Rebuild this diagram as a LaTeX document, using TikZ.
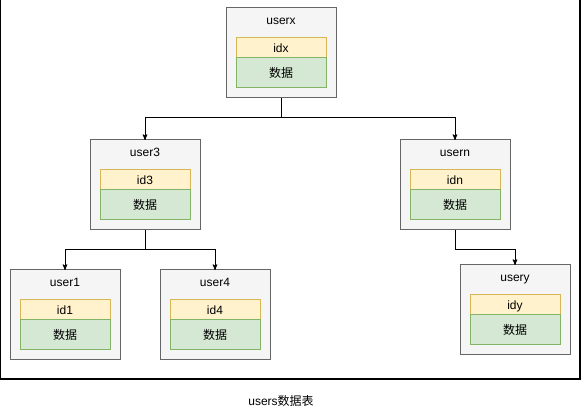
\documentclass[tikz,border=0pt]{standalone}
\usepackage{fontspec}
\setmainfont{Liberation Sans}
\newfontfamily\cjk{Noto Sans CJK SC}
\usetikzlibrary{arrows,positioning}

\definecolor{boxfill}{HTML}{F5F5F5}
\definecolor{boxline}{HTML}{666666}
\definecolor{idfill}{HTML}{FFF2CC}
\definecolor{idline}{HTML}{D6B656}
\definecolor{datafill}{HTML}{D5E8D4}
\definecolor{dataline}{HTML}{82B366}

\begin{document}
\begin{tikzpicture}[x=1pt,y=-1pt,->,>=stealth',line width=1pt,
                    font=\fontsize{12}{14}\selectfont,
                    every node/.style={inner sep=0pt,outer sep=0pt,
                                       text height=10.9pt,text depth=2.5pt},
                    user/.style={draw=boxline,fill=boxfill,
                                 minimum width=110pt,minimum height=90pt},
                    idfield/.style={draw=idline,fill=idfill,
                                    minimum width=90pt,minimum height=20pt},
                    datafield/.style={draw=dataline,fill=datafill,
                                      minimum width=90pt,minimum height=30pt}]

  \useasboundingbox (0,0) rectangle (582,411);
  \draw[-,line width=1.2pt] (0.6,-1) rectangle (580,379);

  % the records
  \node[user] (ux) at (281,53)  {};
  \node[user] (u3) at (145,185) {};
  \node[user] (un) at (455,185) {};
  \node[user] (u1) at (65,315)  {};
  \node[user] (u4) at (215,315) {};
  \node[user] (uy) at (515,310) {};

  \node (ux-t) at ([yshift=-12pt]ux.north) {userx};
  \node (u3-t) at ([yshift=-12pt]u3.north) {user3};
  \node (un-t) at ([yshift=-12pt]un.north) {usern};
  \node (u1-t) at ([yshift=-12pt]u1.north) {user1};
  \node (u4-t) at ([yshift=-12pt]u4.north) {user4};
  \node (uy-t) at ([yshift=-12pt]uy.north) {usery};

  \node[idfield] (ux-id) [below=30pt of ux.north] {idx};
  \node[idfield] (u3-id) [below=30pt of u3.north] {id3};
  \node[idfield] (un-id) [below=30pt of un.north] {idn};
  \node[idfield] (u1-id) [below=30pt of u1.north] {id1};
  \node[idfield] (u4-id) [below=30pt of u4.north] {id4};
  \node[idfield] (uy-id) [below=30pt of uy.north] {idy};

  \node[datafield] (ux-d) [below=0pt of ux-id] {\cjk 数据};
  \node[datafield] (u3-d) [below=0pt of u3-id] {\cjk 数据};
  \node[datafield] (un-d) [below=0pt of un-id] {\cjk 数据};
  \node[datafield] (u1-d) [below=0pt of u1-id] {\cjk 数据};
  \node[datafield] (u4-d) [below=0pt of u4-id] {\cjk 数据};
  \node[datafield] (uy-d) [below=0pt of uy-id] {\cjk 数据};

  % links
  \draw (ux.south) -- ++(0,20) -| (u3.north);
  \draw (ux.south) -- ++(0,20) -| (un.north);
  \draw (u3.south) -- ++(0,20) -| (u1.north);
  \draw (u3.south) -- ++(0,20) -| (u4.north);
  \draw (un.south) -- ++(0,20) -| (uy.north);

  \node (caption) at (281,401) {users{\cjk 数据表}};
\end{tikzpicture}
\end{document}
